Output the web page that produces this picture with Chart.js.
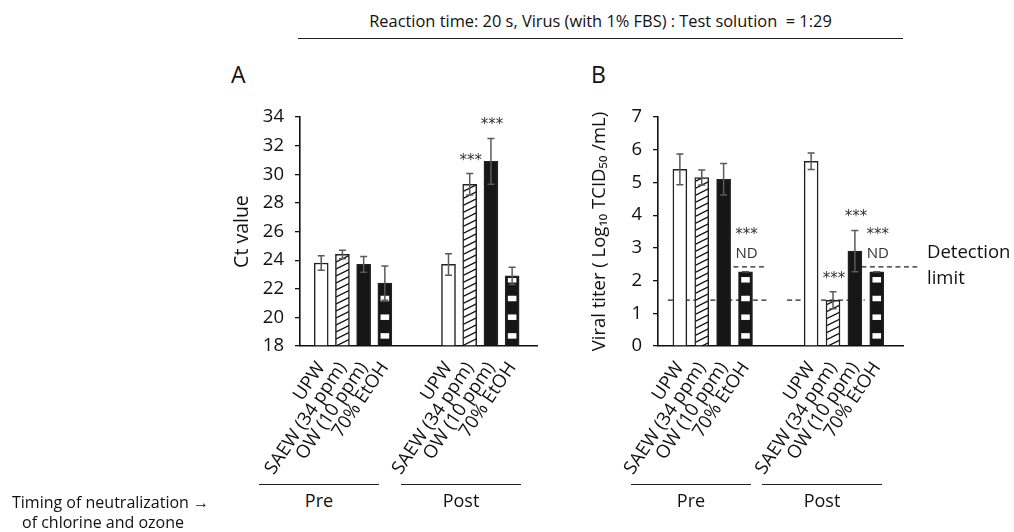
<!DOCTYPE html>
<html>
<head>
<meta charset="utf-8">
<script src="https://cdn.jsdelivr.net/npm/chart.js@4.4.1/dist/chart.umd.min.js"></script>
<style>
  body { margin: 0; width: 1014px; height: 532px; background: #fff; position: relative; overflow: hidden;
         font-family: "Open Sans", sans-serif; color: #111; }
  .t { position: absolute; white-space: nowrap; line-height: 1; }
  .c { text-align: center; }
  .rule { position: absolute; height: 0; border-top: 1.3px solid #222; }
  canvas { position: absolute; }
</style>
</head>
<body>
<div class="t c" style="left:298px; width:605px; top:13px; font-size:16.4px;">Reaction time: 20 s, Virus (with 1% FBS) : Test solution&nbsp; = 1:29</div>
<div class="rule" style="left:298px; width:605px; top:38px;"></div>
<div class="t" style="left:231px; top:63px; font-size:23px;">A</div>
<div class="t" style="left:591px; top:63px; font-size:23px;">B</div>

<canvas id="chartA" width="380" height="390" style="left:180px; top:95px;"></canvas>
<canvas id="chartB" width="454" height="390" style="left:560px; top:95px;"></canvas>

<div class="t" style="left:927px; top:242px; font-size:18.5px;">Detection</div>
<div class="t" style="left:927px; top:268px; font-size:18.5px;">limit</div>

<div class="rule" style="left:259px; width:120px; top:484px;"></div>
<div class="rule" style="left:401px; width:120px; top:484px;"></div>
<div class="rule" style="left:631px; width:120px; top:484px;"></div>
<div class="rule" style="left:762px; width:120px; top:484px;"></div>
<div class="t c" style="left:259px; width:120px; top:491px; font-size:18px;">Pre</div>
<div class="t c" style="left:401px; width:120px; top:491px; font-size:18px;">Post</div>
<div class="t c" style="left:631px; width:120px; top:491px; font-size:18px;">Pre</div>
<div class="t c" style="left:762px; width:120px; top:491px; font-size:18px;">Post</div>

<div class="t" style="left:12px; top:494px; font-size:16px;">Timing of neutralization &rarr;</div>
<div class="t" style="left:22px; top:514px; font-size:16px;">of chlorine and ozone</div>

<script>
// categories du graphique (repetees pour Pre et Post)
const categories = ["UPW", "SAEW (34 ppm)", "OW (10 ppm)", "70% EtOH"];
// positions des barres sur l'axe x (trou entre Pre et Post)
const positions = [0, 1, 2, 3, 6, 7, 8, 9];

// Panneau A : Ct value
const ctValues = [23.8, 24.4, 23.7, 22.4, 23.7, 29.3, 30.9, 22.9];
const ctErrors = [0.5, 0.3, 0.55, 1.2, 0.75, 0.75, 1.6, 0.6];
const ctTicks = [18, 34, 2];

// Panneau B : titre viral
const titerValues = [5.4, 5.15, 5.1, 2.27, 5.65, 1.4, 2.9, 2.27];
const titerErrors = [0.47, 0.23, 0.48, 0, 0.25, 0.26, 0.63, 0];
const titerTicks = [0, 7, 1];

// significativite (indices des barres)
const starsA = [5, 6];
const starsB = [3, 5, 6, 7];
const ndB = [3, 7];

// limites de detection
const detectionLow = 1.4;
const detectionHigh = 2.42;
const lowSpans = [[-0.55, 4.1], [4.9, 8.45]];
const highSpans = [[2.45, 3.95], [8.3, 10.85]];

Chart.defaults.font.family = "'Open Sans', sans-serif";
Chart.defaults.color = "#111";

// motif hachure pour SAEW
function hachures() {
  const c = document.createElement("canvas");
  c.width = 14; c.height = 7;
  const g = c.getContext("2d");
  g.fillStyle = "#fff";
  g.fillRect(0, 0, 14, 7);
  g.strokeStyle = "#111";
  g.lineWidth = 1.3;
  for (const d of [-7, 0, 7]) {
    g.beginPath();
    g.moveTo(-2, 8 + d);
    g.lineTo(16, -1 + d);
    g.stroke();
  }
  return g.createPattern(c, "repeat");
}
const motif = hachures();
const fills = positions.map((p, i) => [ "#fff", motif, "#161616", "#161616" ][i % 4]);

// barres decorees : rayures EtOH, barres d'erreur, etoiles
const decorBarres = {
  id: "decorBarres",
  afterDatasetsDraw(chart) {
    const ctx = chart.ctx;
    const ds = chart.data.datasets[0];
    const yScale = chart.scales.y;
    const meta = chart.getDatasetMeta(0);
    meta.data.forEach((bar, i) => {
      if (i % 4 === 3) {
        ctx.save();
        ctx.beginPath();
        ctx.rect(bar.x - bar.width / 2, bar.y + 2, bar.width, bar.base - bar.y - 2);
        ctx.clip();
        ctx.fillStyle = "#fff";
        for (let yy = bar.base - 6.7 - 5.5; yy > bar.y - 6; yy -= 18.7) {
          ctx.fillRect(bar.x - bar.width / 2 + 2.7, yy, bar.width - 5.4, 5.5);
        }
        ctx.restore();
      }
      const v = ds.data[i].y;
      const e = ds.errors[i];
      const top = yScale.getPixelForValue(v + e);
      const bot = yScale.getPixelForValue(v - e);
      ctx.save();
      ctx.strokeStyle = "#5a5a5a";
      ctx.lineWidth = 1.5;
      ctx.beginPath();
      ctx.moveTo(bar.x, top); ctx.lineTo(bar.x, bot);
      ctx.moveTo(bar.x - 3.5, top); ctx.lineTo(bar.x + 3.5, top);
      ctx.moveTo(bar.x - 3.5, bot); ctx.lineTo(bar.x + 3.5, bot);
      ctx.stroke();
      ctx.restore();
    });
    // etoiles et ND
    ctx.save();
    ctx.textAlign = "center";
    ctx.textBaseline = "middle";
    ctx.fillStyle = "#333";
    const nd = ds.nd || [];
    ds.stars.forEach(i => {
      const bar = meta.data[i];
      let y;
      if (nd.includes(i)) {
        y = yScale.getPixelForValue(detectionHigh) - 32;
      } else {
        y = yScale.getPixelForValue(ds.data[i].y + ds.errors[i]) - 13;
      }
      ctx.font = "15px 'DejaVu Sans'";
      ctx.fillText("***", bar.x + 1, y);
    });
    nd.forEach(i => {
      const bar = meta.data[i];
      ctx.font = "15px 'Open Sans'";
      ctx.fillText("ND", bar.x + 1, yScale.getPixelForValue(detectionHigh) - 13);
    });
    ctx.restore();
  }
};

function construire(id, values, errors, ticks, titre, titleSize, titlePad, yWidth, padRight, stars, nd, lignes) {
  const datasets = [{
    type: "bar",
    data: positions.map((p, i) => ({ x: p, y: values[i] })),
    errors: errors,
    stars: stars,
    nd: nd,
    base: ticks[0],
    backgroundColor: fills,
    borderColor: "#222",
    borderWidth: 1.5,
    barThickness: 14,
    order: 0
  }];
  lignes.forEach(l => datasets.push({
    type: "line",
    data: [{ x: l[0], y: l[2] }, { x: l[1], y: l[2] }],
    borderColor: "#222",
    borderWidth: 1.2,
    borderDash: [5, 3.5],
    pointRadius: 0,
    clip: false,
    order: 2
  }));

  return new Chart(document.getElementById(id), {
    type: "bar",
    data: { datasets: datasets },
    options: {
      responsive: false,
      animation: false,
      layout: { padding: { top: 17.5, right: padRight, left: 0, bottom: 0 } },
      plugins: { legend: { display: false }, tooltip: { enabled: false } },
      scales: {
        x: {
          type: "linear",
          min: -1,
          max: 10.2,
          offset: false,
          grid: { display: false, offset: false },
          border: { color: "#111", width: 1.6 },
          ticks: {
            stepSize: 1,
            autoSkip: false,
            maxRotation: 56,
            minRotation: 56,
            padding: 4,
            font: { size: 18.5 },
            color: "#111",
            callback: (value) => {
              const k = positions.indexOf(value);
              return k < 0 ? "" : categories[k % 4];
            }
          },
          afterFit: (s) => { s.height = 390 - 251; }
        },
        y: {
          min: ticks[0],
          max: ticks[1],
          beginAtZero: false,
          grid: { display: true, drawOnChartArea: false, drawTicks: true, tickLength: 5, color: "#111", lineWidth: 1.3 },
          border: { color: "#111", width: 1.6 },
          ticks: { stepSize: ticks[2], padding: 11, font: { size: 18.5 }, color: "#111" },
          title: { display: true, text: titre, font: { size: titleSize }, color: "#111", padding: { top: titlePad, bottom: 0 } },
          afterFit: (s) => { s.width = yWidth; }
        }
      }
    },
    plugins: [decorBarres]
  });
}

construire("chartA", ctValues, ctErrors, ctTicks, "Ct value", 19.5, 50.3, 120, 21, starsA, [], []);

const lignesB = lowSpans.map(s => [s[0], s[1], detectionLow])
  .concat(highSpans.map(s => [s[0], s[1], detectionHigh]));
construire("chartB", titerValues, titerErrors, titerTicks, "Viral titer ( Log\u2081\u2080 TCID\u2085\u2080 /mL)", 18.5, 29, 98, 111, starsB, ndB, lignesB);
</script>
</body>
</html>
